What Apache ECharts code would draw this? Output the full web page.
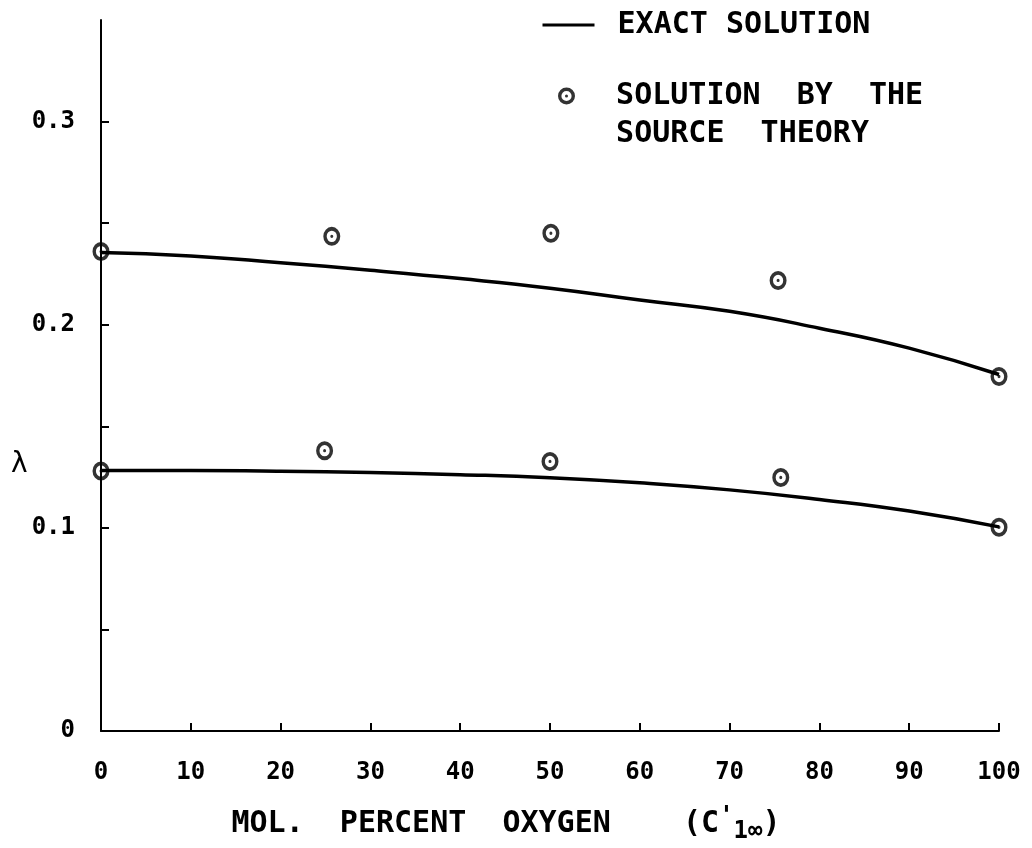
<!DOCTYPE html>
<html>
<head>
<meta charset="utf-8">
<script src="https://cdn.jsdelivr.net/npm/echarts@6/dist/echarts.min.js"></script>
<style>html,body{margin:0;padding:0;background:#fff;}#c{width:1032px;height:848px;}</style>
</head>
<body>
<div id="c"></div>
<script>
// ---- data ----
const curveX      = [0, 10, 20, 30, 40, 50, 60, 70, 80, 90, 100];
const upperExact  = [0.2355, 0.2338, 0.2305, 0.2268, 0.2227, 0.2180, 0.2122, 0.2066, 0.1983, 0.1885, 0.1755];
const lowerExact  = [0.1282, 0.1282, 0.1279, 0.1272, 0.1262, 0.1247, 0.1222, 0.1187, 0.1140, 0.1083, 0.1005];
const upperSrcX   = [0, 25.7, 50.1, 75.4, 100];
const upperSrcY   = [0.236, 0.2435, 0.245, 0.2218, 0.1745];
const lowerSrcX   = [0, 24.9, 50, 75.7, 100];
const lowerSrcY   = [0.128, 0.138, 0.1327, 0.1248, 0.1003];
const xTicks      = [0, 10, 20, 30, 40, 50, 60, 70, 80, 90, 100];
const yTickMarks  = [0.05, 0.1, 0.15, 0.2, 0.25, 0.3];
const yTickLabels = [0, 0.1, 0.2, 0.3];
const exactName   = 'EXACT SOLUTION';
const sourceName  = 'SOLUTION BY THE SOURCE THEORY';

const pair = (xs, ys) => xs.map((x, i) => [x, ys[i]]);
const MONO = '"DejaVu Sans Mono", "Liberation Mono", monospace';
const RING = 'path://M0,-9A9,9 0 1,1 0,9A9,9 0 1,1 0,-9Z M0,-5.4A5.4,5.4 0 1,0 0,5.4A5.4,5.4 0 1,0 0,-5.4Z M0,-1.6A1.6,1.6 0 1,1 0,1.6A1.6,1.6 0 1,1 0,-1.6Z';

const chart = echarts.init(document.getElementById('c'), null, {renderer: 'canvas'});
const lineStyle = {color: '#000', width: 3.5};
const lineBase = {
  type: 'line', name: exactName, smooth: true, symbol: 'none', symbolSize: 0,
  itemStyle: {color: '#000'}, lineStyle: lineStyle, z: 3
};
const scatterBase = {
  type: 'scatter', name: sourceName, symbol: RING, symbolSize: [17, 19],
  itemStyle: {color: '#000'}, z: 5
};
chart.setOption({
  animation: false,
  backgroundColor: '#fff',
  grid: {left: 101, right: 33, top: 20, bottom: 117, outerBoundsMode: 'none', containLabel: false},
  title: [{
    text: 'λ', left: 6, top: 446,
    textStyle: {fontFamily: '"DejaVu Sans", sans-serif', fontSize: 28, fontWeight: 'normal', color: '#000'}
  }],
  legend: [{
    data: [exactName], left: 541, top: 10, padding: 0,
    itemWidth: 52, itemHeight: 28,
    itemStyle: {color: 'rgba(0,0,0,0)', borderColor: 'rgba(0,0,0,0)', borderWidth: 0},
    lineStyle: {color: '#000', width: 3},
    formatter: n => ' ' + n,
    textStyle: {fontFamily: MONO, fontSize: 30, fontWeight: 'bold', color: '#000'}
  }, {
    data: [sourceName], left: 558, top: 39, padding: 0,
    itemWidth: 17, itemHeight: 19,
    formatter: () => '\n  SOLUTION  BY  THE\n  SOURCE  THEORY',
    textStyle: {fontFamily: MONO, fontSize: 30, fontWeight: 'bold', color: '#000', lineHeight: 38}
  }],
  xAxis: {
    type: 'value', min: 0, max: 100, interval: 10,
    axisLine: {show: true, onZero: false, lineStyle: {color: '#000', width: 2}},
    axisTick: {show: true, inside: true, length: 8, lineStyle: {color: '#000', width: 2}, customValues: xTicks.slice(1)},
    axisLabel: {margin: 30, fontFamily: MONO, fontSize: 24, fontWeight: 'bold', color: '#000', customValues: xTicks},
    splitLine: {show: false},
    name: '{a|MOL.  PERCENT  OXYGEN    (C}{p|\'}{s|1∞}{a|)}',
    nameLocation: 'middle', nameGap: 73,
    nameTextStyle: {
      padding: [0, 88, 0, 0],
      rich: {
        a: {fontFamily: MONO, fontSize: 30, fontWeight: 'bold', color: '#000'},
        p: {fontFamily: MONO, fontSize: 24, fontWeight: 'bold', color: '#000', padding: [0, 0, 14, 0]},
        s: {fontFamily: MONO, fontSize: 24, fontWeight: 'bold', color: '#000', padding: [16, 0, 0, 0]}
      }
    }
  },
  yAxis: {
    type: 'value', min: 0, max: 0.35, interval: 0.05,
    axisLine: {show: true, lineStyle: {color: '#000', width: 2}},
    axisTick: {show: true, inside: true, length: 8, lineStyle: {color: '#000', width: 2}, customValues: yTickMarks},
    axisLabel: {margin: 26, fontFamily: MONO, fontSize: 24, fontWeight: 'bold', color: '#000', customValues: yTickLabels,
      formatter: v => (Math.abs(v) < 1e-9 ? '0' : (Math.round(v * 10) / 10).toFixed(1))},
    splitLine: {show: false}
  },
  series: [
    Object.assign({data: pair(curveX, upperExact)}, lineBase),
    Object.assign({data: pair(curveX, lowerExact)}, lineBase),
    Object.assign({data: pair(upperSrcX, upperSrcY)}, scatterBase),
    Object.assign({data: pair(lowerSrcX, lowerSrcY)}, scatterBase)
  ]
});
</script>
</body>
</html>
